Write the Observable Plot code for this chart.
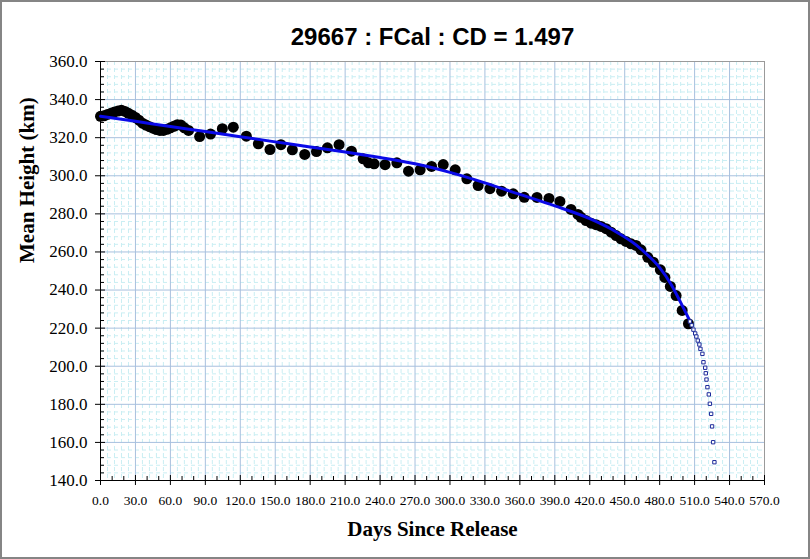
<!DOCTYPE html>
<html>
<head>
<meta charset="utf-8">
<script src="https://cdn.jsdelivr.net/npm/d3@7"></script>
<script src="https://cdn.jsdelivr.net/npm/@observablehq/plot@0.6"></script>
<style>
  html, body { margin: 0; padding: 0; background: white; }
  #wrap { position: relative; width: 810px; height: 559px; overflow: hidden; }
  #border { position: absolute; left: 0; top: 0; width: 810px; height: 559px; box-sizing: border-box; border: 2px solid #858585; pointer-events: none; }
  #wrap svg { position: absolute; left: 0; top: 0; }
</style>
</head>
<body>
<div id="wrap"><div id="border"></div></div>
<script>
// Observed mean heights (black dots)
const obsDays = [0, 3, 6, 9, 12, 15, 18, 21, 24, 27, 30, 33, 36, 39, 42, 45, 48, 51, 54, 57, 60, 63, 66, 69, 72, 75.6,
  85.1, 94.5, 104.6, 114.0, 125.2, 135.5, 145.5, 154.9, 164.7, 175.3, 185.4, 194.8, 204.8, 215.4, 225.5, 230.0,
  234.9, 244.3, 254.4, 264.4, 274.4, 284.2, 294.2, 304.5, 314.5, 324.2, 334.3, 344.3, 354.3, 363.8, 374.7, 385.0,
  394.4, 403.9, 409.9, 412.5, 416.8, 421.1, 425.4, 429.7, 434.0, 438.3, 442.6, 446.8, 451.1, 455.4, 459.7, 464.0,
  469.8, 474.6, 480.6, 484.5, 489.2, 494.1, 499.3, 504.7];
const obsKm = [331.2, 331.5, 332.2, 332.8, 333.5, 334.0, 334.4, 333.8, 332.8, 331.8, 330.6, 329.2, 327.6, 326.6, 325.8, 325.0, 324.3, 323.8, 323.8, 324.4, 325.2, 326.0, 326.8, 326.6, 325.2, 323.8,
  320.6, 321.9, 324.7, 325.5, 320.8, 316.8, 313.8, 316.3, 313.6, 311.2, 312.7, 314.7, 316.3, 312.9, 308.9, 306.8,
  306.3, 305.8, 306.8, 302.4, 303.1, 304.9, 305.9, 303.1, 298.4, 294.9, 293.2, 291.9, 290.5, 288.7, 288.6, 288.1,
  286.5, 282.3, 279.7, 278.2, 276.5, 275.1, 274.3, 273.4, 272.2, 270.4, 268.6, 266.9, 265.5, 264.3, 263.4, 261.1,
  257.2, 254.6, 250.6, 246.6, 241.9, 237.1, 229.3, 222.3];

// Fitted decay curve (blue line)
const fitDays = [0, 30, 60, 90, 120, 150, 180, 210, 240, 270, 300, 330, 360, 390, 420, 440, 460, 470, 480, 490, 498, 505];
const fitKm = [331.3, 328.6, 325.9, 323.2, 320.5, 317.8, 315.1, 312.5, 309.6, 306.3, 301.8, 296.3, 290.2, 284.2, 277.5, 271.5, 263.6, 258.2, 251.8, 242.8, 233.5, 225.0];

// Predicted tail (small blue squares)
const tailDays = [506.0, 507.5, 509.0, 510.5, 511.5, 512.7, 514.1, 515.0, 516.7, 517.6, 519.1, 519.6, 520.2, 521.0, 522.2, 523.1, 524.2, 525.0, 525.9, 527.0];
const tailKm = [223.5, 221.5, 219.2, 217.2, 215.6, 213.5, 211.4, 209.1, 206.5, 202.1, 199.2, 196.3, 193.0, 189.0, 185.2, 180.3, 175.0, 168.4, 160.1, 149.6];

const title = "29667 : FCal : CD = 1.497";
const xTitle = "Days Since Release";
const yTitle = "Mean Height (km)";

const xMajor = d3.range(0, 571, 30);
const xMinorTicks = d3.range(0, 571, 10).filter(d => d % 30 !== 0);
const xMinorGrid = d3.range(0, 571, 6).filter(d => d % 30 !== 0);
const yMajor = d3.range(140, 361, 20);
const yMinor = d3.range(140, 361, 4).filter(d => (d - 140) % 20 !== 0);

const obs = obsDays.map((d, i) => ({day: d, km: obsKm[i]}));
const fit = fitDays.map((d, i) => ({day: d, km: fitKm[i]}));
const tail = tailDays.map((d, i) => ({day: d, km: tailKm[i]}));

const chart = Plot.plot({
  width: 810,
  height: 559,
  marginTop: 61,
  marginRight: 46,
  marginBottom: 79,
  marginLeft: 100,
  style: {fontFamily: "'Liberation Serif', 'Times New Roman', serif", background: "transparent", color: "black"},
  x: {domain: [0, 570], label: null},
  y: {domain: [140, 360], label: null},
  marks: [
    Plot.gridX(xMinorGrid, {stroke: "#c9eef3", strokeOpacity: 1, strokeDasharray: "4,3"}),
    Plot.gridY(yMinor, {stroke: "#c9eef3", strokeOpacity: 1, strokeDasharray: "4,3"}),
    Plot.gridX(xMajor, {stroke: "#a8c0de", strokeOpacity: 1}),
    Plot.gridY(yMajor, {stroke: "#a8c0de", strokeOpacity: 1}),
    Plot.frame({stroke: "#9a9a9a"}),
    Plot.ruleX([0], {stroke: "black"}),
    Plot.ruleY([140], {stroke: "black"}),
    Plot.axisY({ticks: yMajor, tickSize: 5, tickPadding: 8, fontSize: 17, tickFormat: d => d.toFixed(1), label: null}),
    Plot.axisY({ticks: yMajor, tickSize: -5, tickFormat: () => "", label: null}),
    Plot.axisY({ticks: yMinor, tickSize: -4, tickFormat: () => "", label: null}),
    Plot.axisX({ticks: xMajor, tickSize: 5, tickPadding: 10, fontSize: 13.5, tickFormat: d => d.toFixed(1), label: null}),
    Plot.axisX({ticks: xMajor, tickSize: -5, tickFormat: () => "", label: null}),
    Plot.axisX({ticks: xMinorTicks, tickSize: -4, tickFormat: () => "", label: null}),
    Plot.dot(obs, {x: "day", y: "km", r: 5.5, fill: "black", stroke: "none"}),
    Plot.line(fit, {x: "day", y: "km", stroke: "#0a0ae8", strokeWidth: 3, curve: "monotone-x"}),
    Plot.dot(tail, {x: "day", y: "km", symbol: "square", r: 1.9, stroke: "#1c2a9a", fill: "white", strokeWidth: 1}),
    Plot.text([title], {text: d => d, frameAnchor: "top", lineAnchor: "middle", dy: -24, fontSize: 24, fontWeight: "bold", fontFamily: "'Liberation Sans', Arial, sans-serif", fill: "black"}),
    Plot.text([xTitle], {text: d => d, frameAnchor: "bottom", lineAnchor: "middle", dy: 49, fontSize: 21, fontWeight: "bold", fill: "black"}),
    Plot.text([yTitle], {text: d => d, frameAnchor: "left", dx: -73, dy: -8, rotate: -90, fontSize: 21, fontWeight: "bold", fill: "black"})
  ]
});
document.getElementById("wrap").insertBefore(chart, document.getElementById("border"));
</script>
</body>
</html>
